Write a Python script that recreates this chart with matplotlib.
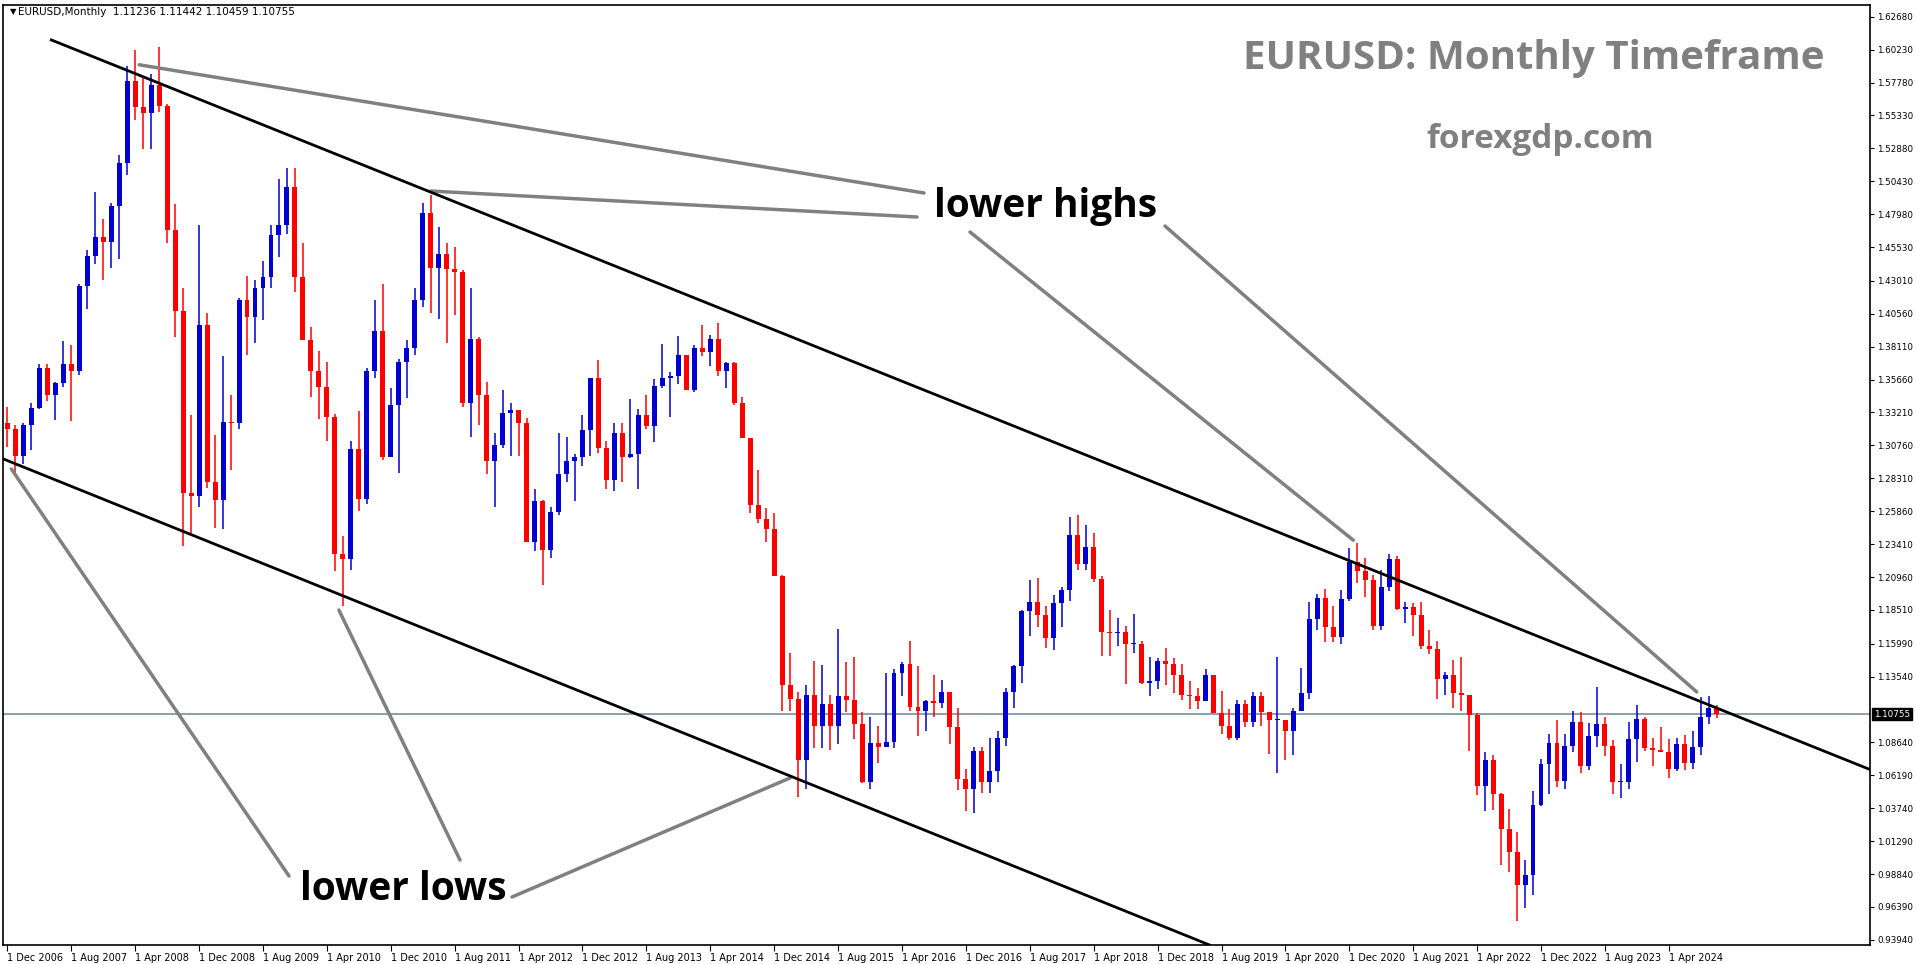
import matplotlib.pyplot as plt
import numpy as np

months = ["Jan", "Feb", "Mar", "Apr", "May", "Jun", "Jul", "Aug", "Sep", "Oct", "Nov", "Dec"]

first_open = 1.3240
# monthly closes, Dec 2006 .. Oct 2024
closes = [1.3200,
    1.2995, 1.3230, 1.3355, 1.3650, 1.3450, 1.3540, 1.3680, 1.3630, 1.4260, 1.4485, 1.4630, 1.4590,
    1.4860, 1.5180, 1.5790, 1.5595, 1.5550, 1.5760, 1.5600, 1.4680, 1.4080, 1.2720, 1.2700, 1.3970,
    1.2800, 1.2670, 1.3250, 1.3240, 1.4160, 1.4030, 1.4250, 1.4330, 1.4640, 1.4720, 1.5000, 1.4330,
    1.3860, 1.3630, 1.3510, 1.3290, 1.2270, 1.2230, 1.3050, 1.2680, 1.3630, 1.3930, 1.2990, 1.3380,
    1.3700, 1.3800, 1.4160, 1.4810, 1.4400, 1.4500, 1.4390, 1.4370, 1.3390, 1.3870, 1.3450, 1.2960,
    1.3080, 1.3320, 1.3340, 1.3240, 1.2360, 1.2660, 1.2300, 1.2580, 1.2860, 1.2960, 1.2990, 1.3190,
    1.3580, 1.3060, 1.2820, 1.3170, 1.2990, 1.3010, 1.3300, 1.3220, 1.3520, 1.3580, 1.3590, 1.3750,
    1.3490, 1.3800, 1.3770, 1.3870, 1.3630, 1.3690, 1.3390, 1.3130, 1.2630, 1.2530, 1.2450, 1.2100,
    1.1290, 1.1190, 1.0730, 1.1220, 1.0990, 1.1150, 1.0990, 1.1210, 1.1180, 1.1000, 1.0570, 1.0860,
    1.0830, 1.0870, 1.1380, 1.1450, 1.1130, 1.1100, 1.1170, 1.1160, 1.1240, 1.0980, 1.0590, 1.0520,
    1.0800, 1.0570, 1.0650, 1.0900, 1.1240, 1.1430, 1.1840, 1.1910, 1.1810, 1.1640, 1.1900, 1.2000,
    1.2410, 1.2190, 1.2320, 1.2080, 1.1690, 1.1680, 1.1690, 1.1600, 1.1600, 1.1310, 1.1320, 1.1470,
    1.1450, 1.1370, 1.1220, 1.1210, 1.1170, 1.1370, 1.1080, 1.0990, 1.0900, 1.1150, 1.1020, 1.1210,
    1.1090, 1.1030, 1.1030, 1.0950, 1.1100, 1.1230, 1.1780, 1.1940, 1.1720, 1.1650, 1.1930, 1.2210,
    1.2140, 1.2070, 1.1730, 1.2020, 1.2230, 1.1860, 1.1870, 1.1810, 1.1580, 1.1560, 1.1340, 1.1370,
    1.1230, 1.1220, 1.1070, 1.0540, 1.0730, 1.0480, 1.0220, 1.0050, 0.9800, 0.9880, 1.0400, 1.0700,
    1.0860, 1.0580, 1.0840, 1.1020, 1.0690, 1.0910, 1.1000, 1.0840, 1.0570, 1.0570, 1.0890, 1.1040,
    1.0820, 1.0810, 1.0790, 1.0670, 1.0850, 1.0710, 1.0830, 1.1050, 1.11236, 1.10755]
highs = [1.3365,
    1.3225, 1.3240, 1.3390, 1.3680, 1.3680, 1.3545, 1.3850, 1.3820, 1.4280, 1.4530, 1.4965, 1.4760,
    1.4880, 1.5240, 1.5900, 1.6020, 1.5820, 1.5840, 1.6040, 1.5620, 1.4870, 1.4250, 1.3300, 1.4720,
    1.4060, 1.3150, 1.3740, 1.3450, 1.4170, 1.4340, 1.4310, 1.4450, 1.4720, 1.5060, 1.5140, 1.5145,
    1.4580, 1.3960, 1.3780, 1.3700, 1.3310, 1.2400, 1.3110, 1.3330, 1.3650, 1.4160, 1.4280, 1.3500,
    1.3720, 1.3860, 1.4250, 1.4880, 1.4940, 1.4700, 1.4580, 1.4550, 1.4380, 1.4250, 1.3880, 1.3550,
    1.3170, 1.3490, 1.3390, 1.3280, 1.3280, 1.2750, 1.2670, 1.2620, 1.3170, 1.3140, 1.3010, 1.3300,
    1.3580, 1.3710, 1.3110, 1.3240, 1.3240, 1.3420, 1.3350, 1.3450, 1.3570, 1.3830, 1.3620, 1.3890,
    1.3740, 1.3820, 1.3970, 1.3900, 1.3990, 1.3700, 1.3700, 1.3440, 1.3110, 1.2890, 1.2610, 1.2570,
    1.2110, 1.1530, 1.1240, 1.1290, 1.1470, 1.1440, 1.1220, 1.1710, 1.1460, 1.1500, 1.1090, 1.1050,
    1.0990, 1.1380, 1.1410, 1.1460, 1.1620, 1.1430, 1.1180, 1.1370, 1.1330, 1.1240, 1.1120, 1.0670,
    1.0830, 1.0830, 1.0900, 1.0950, 1.1270, 1.1440, 1.1850, 1.2070, 1.2090, 1.1880, 1.1960, 1.2020,
    1.2540, 1.2560, 1.2480, 1.2420, 1.2100, 1.1850, 1.1790, 1.1730, 1.1820, 1.1620, 1.1500, 1.1490,
    1.1570, 1.1490, 1.1450, 1.1320, 1.1270, 1.1410, 1.1290, 1.1250, 1.1110, 1.1180, 1.1180, 1.1240,
    1.1240, 1.1050, 1.1500, 1.1020, 1.1120, 1.1420, 1.1910, 1.1970, 1.2010, 1.1880, 1.2000, 1.2310,
    1.2350, 1.2240, 1.2110, 1.2150, 1.2270, 1.2250, 1.1910, 1.1900, 1.1910, 1.1700, 1.1620, 1.1390,
    1.1480, 1.1500, 1.1180, 1.1080, 1.0790, 1.0770, 1.0490, 1.0370, 1.0200, 0.9990, 1.0500, 1.0740,
    1.0930, 1.1030, 1.0930, 1.1100, 1.1090, 1.1010, 1.1280, 1.1050, 1.0880, 1.0700, 1.1020, 1.1140,
    1.1050, 1.0900, 1.0980, 1.0890, 1.0900, 1.0920, 1.0950, 1.1200, 1.1210, 1.11442]
lows = [1.3065,
    1.2865, 1.2935, 1.3045, 1.3345, 1.3405, 1.3265, 1.3510, 1.3260, 1.3600, 1.4090, 1.4430, 1.4310,
    1.4400, 1.4465, 1.5090, 1.5500, 1.5285, 1.5285, 1.5560, 1.4580, 1.3880, 1.2330, 1.2420, 1.2620,
    1.2760, 1.2460, 1.2455, 1.2890, 1.3200, 1.3750, 1.3840, 1.4010, 1.4250, 1.4480, 1.4650, 1.4220,
    1.3860, 1.3440, 1.3270, 1.3110, 1.2140, 1.1880, 1.2150, 1.2590, 1.2640, 1.3580, 1.2970, 1.3070,
    1.2870, 1.3430, 1.3750, 1.4110, 1.4060, 1.4020, 1.3840, 1.4050, 1.3360, 1.3140, 1.3230, 1.2860,
    1.2620, 1.3060, 1.3000, 1.3000, 1.2360, 1.2290, 1.2040, 1.2240, 1.2560, 1.2800, 1.2660, 1.2920,
    1.3000, 1.3020, 1.2750, 1.2740, 1.2800, 1.2980, 1.2750, 1.3200, 1.3100, 1.3500, 1.3290, 1.3530,
    1.3490, 1.3470, 1.3740, 1.3670, 1.3590, 1.3500, 1.3380, 1.3130, 1.2570, 1.2500, 1.2360, 1.2100,
    1.1100, 1.1100, 1.0460, 1.0520, 1.0820, 1.0820, 1.0810, 1.0850, 1.1090, 1.0890, 1.0560, 1.0520,
    1.0710, 1.0860, 1.0820, 1.1210, 1.1100, 1.0910, 1.0950, 1.1050, 1.1120, 1.0850, 1.0510, 1.0350,
    1.0340, 1.0490, 1.0490, 1.0570, 1.0840, 1.1120, 1.1310, 1.1660, 1.1720, 1.1570, 1.1550, 1.1720,
    1.1920, 1.2150, 1.2150, 1.2060, 1.1510, 1.1510, 1.1580, 1.1300, 1.1530, 1.1300, 1.1210, 1.1260,
    1.1290, 1.1230, 1.1180, 1.1110, 1.1110, 1.1180, 1.1100, 1.0930, 1.0880, 1.0880, 1.0980, 1.0980,
    1.0990, 1.0780, 1.0640, 1.0730, 1.0770, 1.1100, 1.1190, 1.1700, 1.1610, 1.1610, 1.1600, 1.1920,
    1.2050, 1.1950, 1.1700, 1.1700, 1.1990, 1.1850, 1.1750, 1.1660, 1.1560, 1.1520, 1.1190, 1.1220,
    1.1120, 1.1100, 1.0800, 1.0470, 1.0350, 1.0360, 0.9950, 0.9900, 0.9535, 0.9630, 0.9730, 1.0390,
    1.0480, 1.0530, 1.0520, 1.0790, 1.0640, 1.0660, 1.0830, 1.0760, 1.0480, 1.0450, 1.0520, 1.0720,
    1.0800, 1.0690, 1.0800, 1.0600, 1.0650, 1.0660, 1.0670, 1.0770, 1.1000, 1.10459]

start_year, start_month = 2006, 12
ytick_labels = ["1.62680", "1.60230", "1.57780", "1.55330", "1.52880", "1.50430", "1.47980",
                "1.45530", "1.43010", "1.40560", "1.38110", "1.35660", "1.33210", "1.30760",
                "1.28310", "1.25860", "1.23410", "1.20960", "1.18510", "1.15990", "1.13540",
                "1.08640", "1.06190", "1.03740", "1.01290", "0.98840", "0.96390", "0.93940"]
last_price = 1.10755

# trendlines (month index, price)
upper_line = [(5.5, 1.6095), (233.5, 1.0655)]
lower_line = [(-0.5, 1.2975), (150.5, 0.9356)]

closes = np.array(closes)
highs = np.array(highs)
lows = np.array(lows)
opens = np.concatenate([[first_open], closes[:-1]])
n = len(closes)
idx = np.arange(n)

W, H = 1916, 964
fig = plt.figure(figsize=(W / 100, H / 100), dpi=100)
ax = fig.add_axes([0, 0, 1, 1])
# y mapping: 1.6268 at px 16.7 from top, 0.0007446 per px
top_px, bot_px = 5, 945
ax.set_position([3 / W, (H - bot_px) / H, (1870 - 3) / W, (bot_px - top_px) / H])
ax.set_ylim(1.6268 - (bot_px - 16.7) * 0.0007446, 1.6268 + (16.7 - top_px) * 0.0007446)
ax.set_xlim(-0.55, (1870 - 4.5) / 8)

up = closes >= opens
blue, red = "#0000d0", "#ff0000"
cols = np.where(up, blue, red)
ax.vlines(idx, lows, highs, colors=cols, linewidth=1.1, zorder=3)
body_lo = np.minimum(opens, closes)
body_h = np.maximum(np.abs(closes - opens), 0.0008)
ax.bar(idx, body_h, bottom=body_lo, width=0.62, color=cols, linewidth=0, zorder=4)

# current price line
ax.axhline(last_price, color="#7a8ea0", linewidth=1.2, zorder=2)

# trendlines
for line in (upper_line, lower_line):
    (x0, y0), (x1, y1) = line
    ax.plot([x0, x1], [y0, y1], color="black", linewidth=2, zorder=5)

# axes styling
for s in ("top", "left", "bottom", "right"):
    ax.spines[s].set_linewidth(1.2)
ax.yaxis.tick_right()
yvals = [float(v) for v in ytick_labels]
ax.set_yticks(yvals)
ax.set_yticklabels(ytick_labels, fontsize=6.3)
ax.tick_params(axis="y", length=3, pad=2)

xt = list(range(0, n, 8))
xl = []
for i in xt:
    m = (start_month - 1 + i) % 12
    y = start_year + (start_month - 1 + i) // 12
    xl.append(f"1 {months[m]} {y}")
ax.set_xticks(xt)
ax.set_xticklabels(xl, fontsize=7, ha="left")
ax.tick_params(axis="x", length=4, pad=2)

# price label box
ax.text(1.002, last_price, "1.10755", transform=ax.get_yaxis_transform(), fontsize=6.3,
        color="white", va="center", ha="left", clip_on=False, zorder=10,
        bbox=dict(boxstyle="square,pad=0.2", fc="black", ec="black"))

# header
fig.text(10 / W, 1 - 12 / H, "\u25bc", fontsize=6, va="center")
fig.text(18 / W, 1 - 12 / H, "EURUSD,Monthly  1.11236 1.11442 1.10459 1.10755", fontsize=7.5, va="center")

# watermark texts
fig.text(1534 / W, 1 - 59 / H, "EURUSD: Monthly Timeframe", fontsize=29, fontweight="bold",
         color="#808080", ha="center", va="center", family="Open Sans")
fig.text(1540 / W, 1 - 140 / H, "forexgdp.com", fontsize=24, fontweight="bold",
         color="#808080", ha="center", va="center", family="Open Sans")

# annotations
gray = dict(arrowstyle="-", color="#808080", linewidth=2.5, shrinkA=0, shrinkB=0)
fig.text(1046 / W, 1 - 207 / H, "lower highs", fontsize=28, fontweight="bold",
         ha="center", va="center", family="Open Sans")
fig.text(403 / W, 1 - 890 / H, "lower lows", fontsize=28, fontweight="bold",
         ha="center", va="center", family="Open Sans")
high_links = [((16.5, 1.591), (924, 193)), ((53, 1.497), (917, 217)),
              ((168.5, 1.237), (970, 232)), ((211.5, 1.124), (1165, 226))]
low_links = [((0.5, 1.290), (289, 876)), ((41.5, 1.185), (460, 860)),
             ((98, 1.060), (512, 897))]
for (px, py), (fx, fy) in high_links + low_links:
    ax.annotate("", xy=(px, py), xytext=(fx, H - fy), textcoords="figure pixels",
                arrowprops=gray, annotation_clip=False)

fig.savefig("out.png", dpi=100)
